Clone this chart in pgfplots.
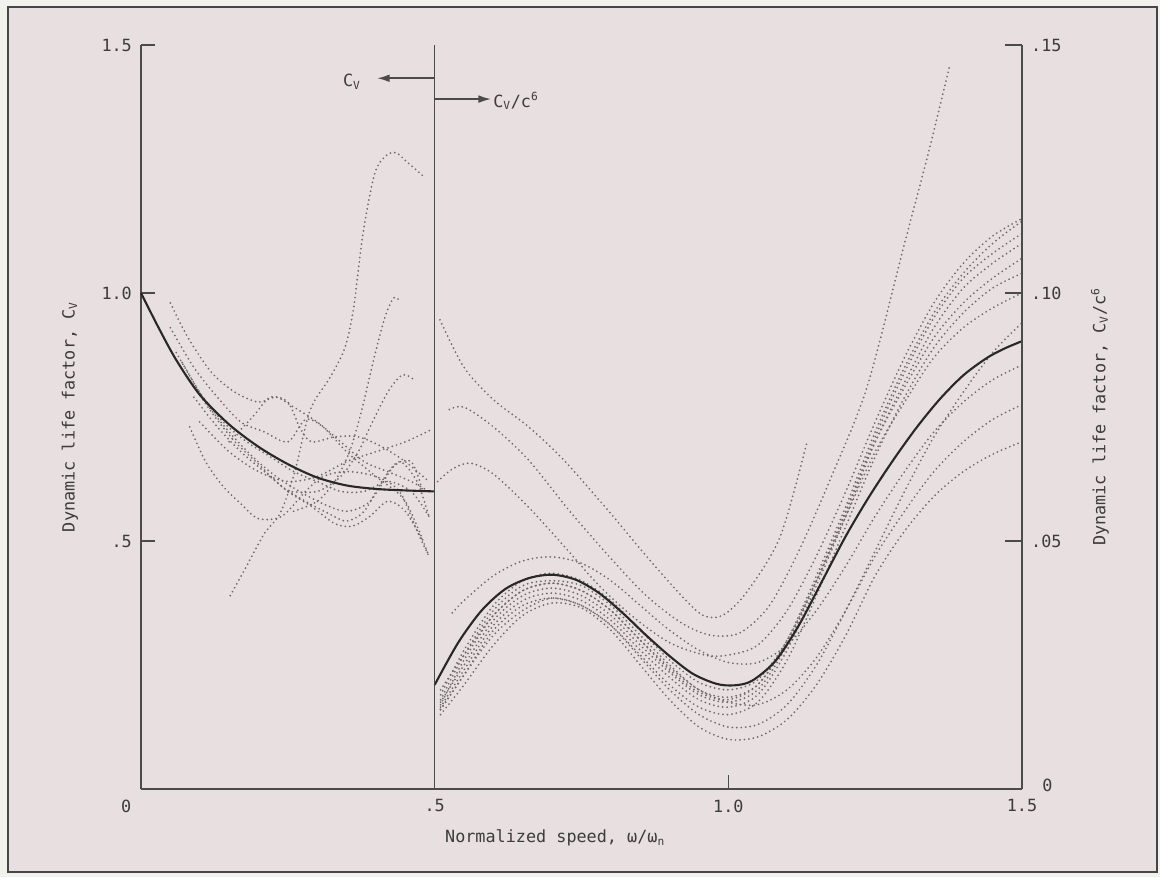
\documentclass[border=0pt]{standalone}
\usepackage{fontspec}
\setmainfont{DejaVu Sans Mono}
\usepackage{pgfplots}
\pgfplotsset{compat=1.18}
\usetikzlibrary{arrows.meta}
\definecolor{bgin}{RGB}{231,223,224}
\definecolor{bgout}{RGB}{241,241,237}
\definecolor{framec}{RGB}{70,70,70}
\definecolor{axcol}{RGB}{75,75,75}
\definecolor{txtc}{RGB}{60,60,60}
\definecolor{dotc}{RGB}{112,106,109}
\definecolor{solc}{RGB}{40,40,40}
\newcommand\lbl{\fontsize{12}{14}\selectfont}
\pgfplotsset{
  dotcurve/.style={dotc, dash pattern=on 0pt off 3.2pt, line cap=round, line width=1.4pt, smooth, no markers},
  solcurve/.style={solc, line width=1.5pt, smooth, no markers},
}
\begin{document}
\begin{tikzpicture}
\fill[bgout] (-100.71pt,-62.86pt) rectangle (727.86pt,563.57pt);
\fill[bgin] (-95pt,-59.3pt) rectangle (725.7pt,558.6pt);
\draw[framec, line width=1.9pt] (-95pt,-59.3pt) rectangle (725.7pt,558.6pt);
% left / main axis
\begin{axis}[
  at={(0,0)}, anchor=south west, scale only axis,
  width=629.3pt, height=531.4pt,
  xmin=0, xmax=1.5, ymin=0, ymax=1.5,
  axis x line*=bottom, axis y line*=left,
  axis line style={-, draw=axcol, line width=1.1pt},
  tick align=inside, major tick length=10pt,
  tick style={draw=axcol, line width=1.1pt},
  xtick={0,0.5,1,1.5}, xticklabels={{\llap{0\kern7pt}},.5,1.0,1.5},
  ytick={0.5,1,1.5}, yticklabels={.5,1.0,1.5},
  tick label style={font=\lbl, text=txtc},
  xticklabel style={yshift=-4pt},
  yticklabel style={xshift=-3pt},
  clip=false,
]
% ---- left region dotted curves (C_v)
\addplot[dotcurve] coordinates {(0.152,0.39)(0.18,0.45)(0.21,0.515)(0.237,0.556)(0.262,0.64)(0.288,0.764)(0.322,0.83)(0.347,0.889)(0.362,0.97)(0.378,1.12)(0.40,1.248)(0.429,1.284)(0.455,1.262)(0.484,1.232)};
\addplot[dotcurve] coordinates {(0.26,0.56)(0.30,0.58)(0.33,0.62)(0.355,0.68)(0.375,0.76)(0.395,0.86)(0.415,0.95)(0.43,0.99)(0.44,0.985)};
\addplot[dotcurve] coordinates {(0.25,0.60)(0.30,0.60)(0.34,0.63)(0.37,0.68)(0.39,0.73)(0.42,0.80)(0.445,0.835)(0.465,0.825)};
\addplot[dotcurve] coordinates {(0.10,0.74)(0.15,0.68)(0.20,0.64)(0.25,0.62)(0.30,0.63)(0.35,0.66)(0.40,0.68)(0.45,0.70)(0.495,0.725)};
\addplot[dotcurve] coordinates {(0.05,0.98)(0.08,0.91)(0.12,0.84)(0.16,0.80)(0.20,0.78)(0.23,0.79)(0.26,0.77)(0.30,0.74)(0.34,0.70)(0.38,0.66)(0.42,0.64)(0.46,0.62)(0.49,0.60)};
\addplot[dotcurve] coordinates {(0.05,0.93)(0.09,0.85)(0.13,0.79)(0.17,0.74)(0.21,0.72)(0.25,0.70)(0.28,0.745)(0.31,0.73)(0.35,0.68)(0.40,0.63)(0.45,0.58)(0.49,0.47)};
\addplot[dotcurve] coordinates {(0.06,0.88)(0.10,0.80)(0.14,0.74)(0.18,0.70)(0.22,0.67)(0.26,0.64)(0.30,0.62)(0.34,0.60)(0.38,0.60)(0.42,0.62)(0.46,0.60)(0.49,0.55)};
\addplot[dotcurve] coordinates {(0.07,0.86)(0.11,0.78)(0.15,0.72)(0.19,0.67)(0.23,0.63)(0.27,0.60)(0.31,0.575)(0.35,0.56)(0.39,0.58)(0.43,0.65)(0.46,0.66)(0.48,0.60)};
\addplot[dotcurve] coordinates {(0.08,0.83)(0.12,0.76)(0.16,0.70)(0.20,0.655)(0.24,0.61)(0.28,0.58)(0.32,0.555)(0.35,0.54)(0.38,0.56)(0.41,0.62)(0.44,0.66)(0.47,0.62)(0.49,0.55)};
\addplot[dotcurve] coordinates {(0.083,0.73)(0.11,0.66)(0.14,0.61)(0.17,0.575)(0.20,0.545)(0.24,0.55)(0.28,0.60)(0.31,0.63)(0.35,0.64)(0.40,0.63)(0.44,0.60)(0.47,0.52)(0.49,0.47)};
\addplot[dotcurve] coordinates {(0.09,0.79)(0.13,0.73)(0.17,0.68)(0.21,0.64)(0.25,0.60)(0.29,0.57)(0.33,0.535)(0.36,0.53)(0.39,0.55)(0.42,0.58)(0.45,0.56)(0.48,0.50)};
\addplot[dotcurve] coordinates {(0.15,0.70)(0.19,0.75)(0.22,0.79)(0.25,0.78)(0.27,0.73)(0.29,0.70)(0.33,0.71)(0.37,0.71)(0.41,0.69)(0.45,0.66)(0.49,0.62)};
% ---- right region dotted curves (C_v/c^6, plotted on the same scale x10)
\addplot[dotcurve] coordinates {(0.509,0.946)(0.55,0.85)(0.60,0.785)(0.66,0.73)(0.72,0.663)(0.80,0.555)(0.86,0.47)(0.92,0.39)(0.957,0.35)(0.99,0.35)(1.03,0.395)(1.088,0.508)(1.134,0.70)};
\addplot[dotcurve] coordinates {(0.525,0.765)(0.55,0.77)(0.60,0.73)(0.66,0.663)(0.73,0.56)(0.80,0.465)(0.86,0.39)(0.92,0.335)(0.97,0.31)(1.02,0.315)(1.07,0.37)(1.12,0.48)(1.173,0.623)(1.236,0.81)(1.30,1.10)(1.34,1.28)(1.376,1.454)};
\addplot[dotcurve] coordinates {(0.505,0.62)(0.53,0.645)(0.56,0.657)(0.60,0.635)(0.66,0.568)(0.72,0.49)(0.78,0.41)(0.84,0.345)(0.90,0.295)(0.96,0.27)(1.00,0.27)(1.05,0.29)(1.10,0.36)(1.15,0.47)(1.20,0.60)(1.25,0.74)(1.30,0.87)(1.35,0.98)(1.40,1.06)(1.45,1.115)(1.50,1.15)};
\addplot[dotcurve] coordinates {(0.51,0.17)(0.55,0.26)(0.60,0.35)(0.65,0.40)(0.70,0.415)(0.75,0.40)(0.80,0.36)(0.85,0.30)(0.90,0.24)(0.95,0.195)(1.00,0.18)(1.05,0.21)(1.10,0.30)(1.15,0.43)(1.20,0.57)(1.25,0.72)(1.30,0.85)(1.35,0.96)(1.40,1.04)(1.45,1.10)(1.50,1.145)};
\addplot[dotcurve] coordinates {(0.51,0.175)(0.55,0.25)(0.60,0.34)(0.65,0.39)(0.70,0.405)(0.75,0.39)(0.80,0.35)(0.85,0.29)(0.90,0.235)(0.95,0.19)(1.00,0.175)(1.05,0.20)(1.10,0.29)(1.15,0.42)(1.20,0.56)(1.25,0.71)(1.30,0.84)(1.35,0.95)(1.40,1.03)(1.45,1.08)(1.50,1.12)};
\addplot[dotcurve] coordinates {(0.51,0.165)(0.55,0.24)(0.60,0.33)(0.65,0.38)(0.70,0.395)(0.75,0.38)(0.80,0.34)(0.85,0.28)(0.90,0.225)(0.95,0.18)(1.00,0.165)(1.05,0.19)(1.10,0.28)(1.15,0.41)(1.20,0.55)(1.25,0.70)(1.30,0.82)(1.35,0.93)(1.40,1.01)(1.45,1.06)(1.50,1.10)};
\addplot[dotcurve] coordinates {(0.51,0.18)(0.55,0.27)(0.60,0.36)(0.65,0.41)(0.70,0.42)(0.75,0.41)(0.80,0.37)(0.85,0.31)(0.90,0.25)(0.95,0.20)(1.00,0.185)(1.05,0.21)(1.10,0.295)(1.15,0.42)(1.20,0.56)(1.25,0.70)(1.30,0.81)(1.35,0.91)(1.40,0.98)(1.45,1.03)(1.50,1.07)};
\addplot[dotcurve] coordinates {(0.51,0.16)(0.55,0.23)(0.60,0.32)(0.65,0.37)(0.70,0.385)(0.75,0.37)(0.80,0.33)(0.85,0.27)(0.90,0.21)(0.95,0.165)(1.00,0.15)(1.05,0.175)(1.10,0.26)(1.15,0.39)(1.20,0.53)(1.25,0.67)(1.30,0.79)(1.35,0.89)(1.40,0.96)(1.45,1.01)(1.50,1.04)};
\addplot[dotcurve] coordinates {(0.51,0.19)(0.55,0.28)(0.60,0.37)(0.65,0.42)(0.70,0.435)(0.75,0.42)(0.80,0.38)(0.85,0.32)(0.90,0.26)(0.95,0.215)(1.00,0.20)(1.05,0.22)(1.10,0.30)(1.15,0.42)(1.20,0.55)(1.25,0.68)(1.30,0.78)(1.35,0.87)(1.40,0.93)(1.45,0.97)(1.50,1.00)};
\addplot[dotcurve] coordinates {(0.53,0.355)(0.55,0.38)(0.60,0.43)(0.65,0.46)(0.70,0.468)(0.75,0.455)(0.80,0.42)(0.85,0.37)(0.90,0.32)(0.95,0.28)(1.00,0.255)(1.05,0.255)(1.10,0.29)(1.15,0.36)(1.20,0.45)(1.25,0.55)(1.30,0.64)(1.35,0.72)(1.40,0.78)(1.45,0.825)(1.50,0.855)};
\addplot[dotcurve] coordinates {(0.51,0.20)(0.55,0.27)(0.60,0.35)(0.65,0.40)(0.70,0.415)(0.75,0.40)(0.80,0.36)(0.85,0.30)(0.90,0.245)(0.95,0.20)(1.00,0.175)(1.05,0.17)(1.10,0.20)(1.15,0.265)(1.20,0.36)(1.25,0.47)(1.30,0.56)(1.35,0.64)(1.40,0.70)(1.45,0.745)(1.50,0.775)};
\addplot[dotcurve] coordinates {(0.51,0.15)(0.55,0.21)(0.60,0.29)(0.65,0.35)(0.70,0.375)(0.75,0.365)(0.80,0.32)(0.85,0.25)(0.90,0.18)(0.95,0.125)(1.00,0.10)(1.05,0.105)(1.10,0.14)(1.15,0.21)(1.20,0.31)(1.25,0.43)(1.30,0.52)(1.35,0.59)(1.40,0.64)(1.45,0.675)(1.50,0.70)};
\addplot[dotcurve] coordinates {(0.51,0.16)(0.55,0.23)(0.60,0.31)(0.65,0.36)(0.70,0.385)(0.75,0.37)(0.80,0.33)(0.85,0.265)(0.90,0.20)(0.95,0.15)(1.00,0.125)(1.05,0.13)(1.10,0.17)(1.15,0.25)(1.20,0.36)(1.25,0.48)(1.30,0.60)(1.35,0.71)(1.40,0.80)(1.45,0.88)(1.50,0.94)};
% ---- mean (solid) curves
\addplot[solcurve] coordinates {(0,1.0)(0.03,0.93)(0.06,0.865)(0.10,0.795)(0.15,0.735)(0.20,0.69)(0.25,0.655)(0.30,0.628)(0.35,0.612)(0.40,0.605)(0.45,0.602)(0.50,0.60)};
\addplot[solcurve] coordinates {(0.50,0.21)(0.54,0.295)(0.58,0.36)(0.62,0.403)(0.66,0.425)(0.70,0.432)(0.74,0.422)(0.78,0.395)(0.82,0.355)(0.86,0.31)(0.90,0.268)(0.94,0.232)(0.98,0.212)(1.01,0.209)(1.04,0.218)(1.08,0.258)(1.12,0.33)(1.16,0.42)(1.20,0.51)(1.24,0.59)(1.28,0.662)(1.32,0.728)(1.36,0.786)(1.40,0.834)(1.44,0.869)(1.47,0.888)(1.50,0.903)};
% divider and arrows
\draw[axcol, line width=1.1pt] (axis cs:0.5,0) -- (axis cs:0.5,1.5);
\draw[axcol, line width=1.1pt, -{Latex[length=9pt,width=5.5pt]}] (axis cs:0.5,1.433) -- (axis cs:0.402,1.433);
\draw[axcol, line width=1.1pt, -{Latex[length=9pt,width=5.5pt]}] (axis cs:0.5,1.391) -- (axis cs:0.596,1.391);
\node[font=\lbl, text=txtc, anchor=center] at (axis cs:0.359,1.426) {C\textsubscript{V}};
\node[font=\lbl, text=txtc, anchor=west, inner sep=1pt] at (axis cs:0.597,1.387) {C\textsubscript{V}/c\textsuperscript{6}};
% labels
\node[font=\lbl, text=txtc, rotate=90] at (rel axis cs:-0.0806,0.5) {Dynamic life factor, C\textsubscript{V}};
\node[font=\lbl, text=txtc, rotate=90] at (rel axis cs:1.0885,0.5) {Dynamic life factor, C\textsubscript{V}/c\textsuperscript{6}};
\node[font=\lbl, text=txtc] at (rel axis cs:0.47,-0.066) {Normalized speed, ω/ω\textsubscript{n}};
\end{axis}
% right axis
\begin{axis}[
  at={(0,0)}, anchor=south west, scale only axis,
  width=629.3pt, height=531.4pt,
  xmin=0, xmax=1.5, ymin=0, ymax=0.15,
  axis x line=none, axis y line*=right,
  axis line style={-, draw=axcol, line width=1.1pt},
  tick align=inside, major tick length=12pt,
  tick style={draw=axcol, line width=1.1pt},
  ytick={0,0.05,0.10,0.15}, yticklabels={{\raisebox{6pt}{\hspace{8pt}0}},.05,.10,.15},
  tick label style={font=\lbl, text=txtc},
  yticklabel style={xshift=3pt},
]
\addplot[draw=none] coordinates {(0,0)(1.5,0.15)};
\end{axis}
\pgfresetboundingbox
\path[use as bounding box] (-100.71pt,-62.86pt) rectangle (727.86pt,563.57pt);
\end{tikzpicture}
\end{document}
